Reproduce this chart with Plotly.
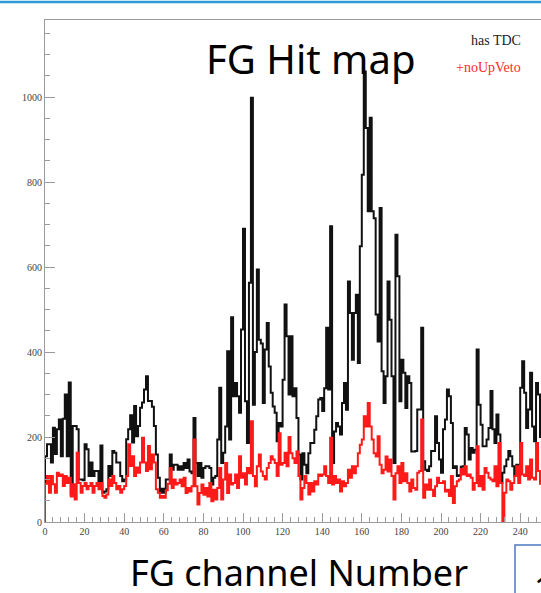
import plotly.graph_objects as go

# FG channel occupancy, one bin per channel (0..255)
has_tdc = [
    155, 183, 183, 140, 222, 160, 218, 241, 155, 243, 300, 155, 328, 65, 226, 226,
    218, 100, 100, 98, 183, 171, 108, 140, 108, 120, 120, 93, 180, 69, 72, 77,
    132, 108, 167, 163, 140, 140, 108, 96, 100, 195, 218, 251, 187, 273, 202, 226,
    269, 281, 312, 343, 285, 285, 271, 226, 159, 104, 69, 78, 69, 100, 100, 159,
    123, 135, 135, 123, 131, 123, 139, 127, 147, 119, 115, 245, 139, 108, 139, 104,
    127, 131, 131, 127, 88, 104, 108, 194, 316, 139, 163, 225, 402, 194, 482, 296,
    327, 296, 257, 453, 690, 284, 186, 563, 998, 276, 400, 594, 429, 420, 280, 406,
    468, 366, 304, 272, 257, 190, 233, 225, 335, 512, 437, 300, 437, 296, 315, 245,
    159, 100, 162, 135, 115, 162, 186, 186, 217, 249, 288, 292, 261, 315, 457, 312,
    696, 139, 213, 233, 225, 206, 280, 327, 264, 566, 492, 382, 492, 535, 374, 649,
    817, 1060, 927, 731, 951, 731, 715, 488, 425, 739, 355, 280, 343, 566, 476, 343,
    139, 676, 578, 284, 382, 351, 268, 343, 327, 166, 166, 167, 265, 265, 457, 143,
    123, 120, 131, 167, 167, 249, 186, 147, 116, 218, 241, 312, 296, 233, 127, 131,
    108, 110, 130, 131, 221, 206, 147, 174, 163, 170, 406, 276, 229, 178, 178, 194,
    221, 308, 218, 186, 253, 206, 92, 116, 131, 147, 167, 155, 131, 108, 135, 127,
    316, 378, 304, 221, 265, 351, 225, 190, 327, 300, 200, 190, 230, 180, 160, 140,
]

no_up_veto = [
    90, 108, 69, 108, 89, 69, 116, 108, 112, 85, 108, 92, 104, 60, 89, 53,
    163, 92, 69, 85, 92, 77, 85, 92, 69, 85, 92, 77, 92, 61, 57, 65,
    100, 85, 108, 92, 77, 85, 69, 77, 85, 108, 183, 132, 155, 108, 128, 116,
    140, 198, 140, 120, 179, 124, 159, 140, 77, 69, 57, 61, 57, 75, 90, 127,
    80, 100, 88, 92, 100, 84, 104, 68, 80, 72, 84, 194, 84, 41, 68, 88,
    64, 80, 60, 92, 49, 76, 53, 80, 127, 53, 100, 139, 68, 112, 88, 92,
    112, 80, 155, 104, 115, 88, 127, 115, 237, 108, 84, 131, 159, 119, 108, 100,
    127, 139, 155, 147, 139, 108, 209, 135, 139, 163, 131, 200, 162, 150, 139, 166,
    108, 53, 80, 108, 92, 65, 92, 72, 96, 88, 112, 108, 112, 131, 108, 92,
    198, 88, 108, 92, 100, 72, 96, 84, 92, 123, 104, 131, 115, 131, 162, 182,
    194, 249, 225, 280, 225, 194, 162, 154, 202, 135, 115, 123, 154, 119, 147, 108,
    53, 115, 131, 92, 139, 96, 115, 92, 72, 100, 80, 76, 116, 120, 241, 57,
    88, 76, 100, 76, 61, 84, 104, 92, 92, 96, 72, 76, 61, 108, 45, 84,
    96, 100, 125, 112, 131, 108, 112, 104, 76, 92, 178, 84, 108, 76, 127, 116,
    104, 100, 96, 131, 84, 186, 92, 0, 69, 100, 96, 76, 92, 108, 131, 92,
    186, 112, 108, 131, 100, 147, 104, 100, 186, 120, 90, 110, 100, 95, 85, 80,
]

x_ticks = list(range(0, 260, 20))
y_ticks = [0, 200, 400, 600, 800, 1000]


def step_outline(values):
    """Histogram outline: rise from the baseline, one step per bin, back down."""
    n = len(values)
    xs = [0] + list(range(n)) + [n, n]
    ys = [0] + list(values) + [values[-1], 0]
    return xs, ys


fig = go.Figure()
for vals, colour in ((has_tdc, "#111111"), (no_up_veto, "#ff1a1a")):
    xs, ys = step_outline(vals)
    fig.add_trace(go.Scatter(
        x=xs, y=ys, mode="lines", line=dict(color=colour, width=2, shape="hv"),
        hoverinfo="skip", showlegend=False,
    ))

W, H = 541, 593
L, R, T, B = 45, 0, 20, 71
pw, ph = W - L - R, H - T - B


def px(x):
    return (x - L) / pw


def py(y):
    return (H - B - y) / ph


tick_font = dict(family="Liberation Serif", size=10, color="#444444")
fig.update_layout(
    width=W, height=H,
    margin=dict(l=L, r=R, t=T, b=B, pad=0),
    paper_bgcolor="white", plot_bgcolor="white",
    xaxis=dict(
        range=[0, pw / 1.98], showgrid=False, zeroline=False,
        showline=True, linecolor="#9a9a9a", linewidth=1, mirror=True,
        tickmode="array", tickvals=x_ticks, ticks="inside", ticklen=9,
        tickcolor="#9a9a9a", tickfont=tick_font, automargin=False,
        minor=dict(dtick=4, ticks="inside", ticklen=5, tickcolor="#9a9a9a"),
    ),
    yaxis=dict(
        range=[0, ph / 0.425], showgrid=False, zeroline=False,
        showline=True, linecolor="#9a9a9a", linewidth=1,
        tickmode="array", tickvals=y_ticks, ticks="inside", ticklen=10,
        tickcolor="#9a9a9a", tickfont=tick_font, automargin=False,
        minor=dict(dtick=50, ticks="inside", ticklen=5, tickcolor="#9a9a9a"),
    ),
    annotations=[
        dict(text="FG Hit map", x=px(311), y=py(58), xref="paper", yref="paper",
             showarrow=False, font=dict(family="Noto Sans", size=40, color="black"),
             xanchor="center", yanchor="middle"),
        dict(text="has TDC", x=px(523), y=py(41), xref="paper", yref="paper",
             showarrow=False, font=dict(family="Liberation Serif", size=14, color="#222222"),
             xanchor="right", yanchor="middle"),
        dict(text="+noUpVeto", x=px(523), y=py(67), xref="paper", yref="paper",
             showarrow=False, font=dict(family="Liberation Serif", size=14, color="#ff2a2a"),
             xanchor="right", yanchor="middle"),
        dict(text="FG channel Number", x=px(299), y=py(572), xref="paper", yref="paper",
             showarrow=False, font=dict(family="Noto Sans", size=36, color="black"),
             xanchor="center", yanchor="middle"),
        dict(text="1", x=px(532), y=py(588), xref="paper", yref="paper",
             showarrow=False, font=dict(family="Noto Sans", size=34, color="black"),
             xanchor="left", yanchor="middle"),
    ],
    shapes=[
        dict(type="line", xref="paper", yref="paper", x0=px(-5), x1=px(W + 5),
             y0=py(2), y1=py(2), line=dict(color="#2e9bd8", width=2.5)),
        dict(type="rect", xref="paper", yref="paper", x0=px(515), x1=px(W + 20),
             y0=py(545), y1=py(H + 20), line=dict(color="#4a78c0", width=1.5)),
    ],
)

fig.write_html("out.html")
